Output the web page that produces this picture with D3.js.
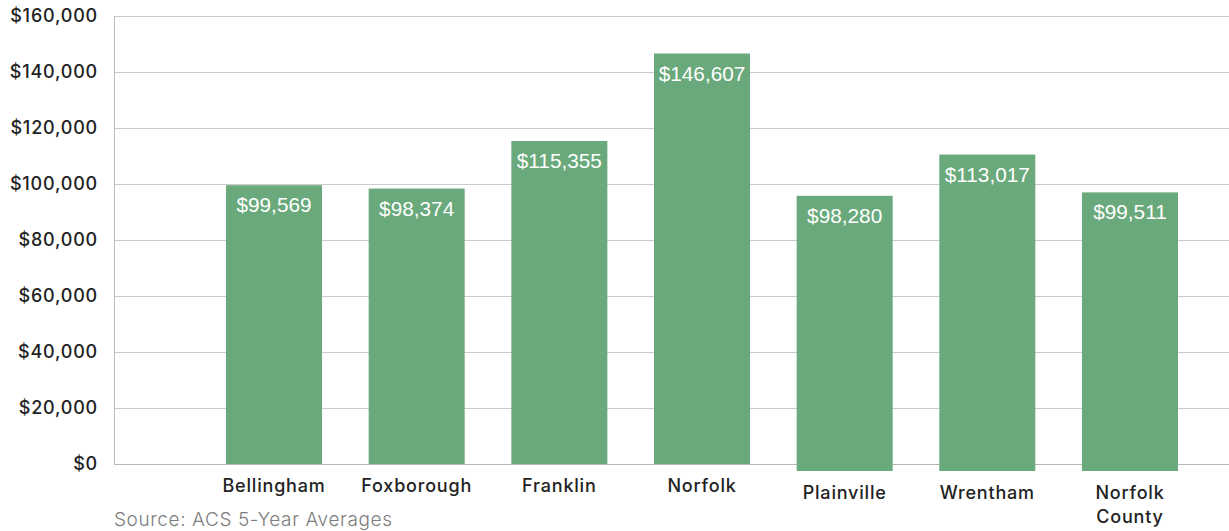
<!DOCTYPE html>
<html>
<head>
<meta charset="utf-8">
<script src="https://cdn.jsdelivr.net/npm/d3@7"></script>
<style>
  html, body { margin: 0; padding: 0; background: #fff; }
  svg { display: block; }
</style>
</head>
<body>
<svg id="chart" width="1229" height="531"></svg>
<script>
// Median household income by community
const categories = ["Bellingham", "Foxborough", "Franklin", "Norfolk", "Plainville", "Wrentham", "Norfolk County"];
const incomes = [99569, 98374, 115355, 146607, 98280, 113017, 99511];
const tickValues = [0, 20000, 40000, 60000, 80000, 100000, 120000, 140000, 160000];
const sourceNote = "Source: ACS 5-Year Averages";

const svg = d3.select("#chart");
const plot = { left: 114, right: 1229, top: 16, bottom: 464 };

const x = d3.scaleBand()
  .domain(categories)
  .range([202.7, 1201.3])
  .paddingInner(0.327)
  .paddingOuter(0.1635);

const y = d3.scaleLinear()
  .domain([0, 160000])
  .range([plot.bottom, plot.top]);

const fmt = d => "$" + d3.format(",")(d);
const labelFont = "Inter, 'Noto Sans', sans-serif";

// horizontal gridlines
svg.append("g")
  .selectAll("line")
  .data(tickValues)
  .join("line")
  .attr("x1", plot.left)
  .attr("x2", plot.right)
  .attr("y1", d => Math.round(y(d)) + 0.5)
  .attr("y2", d => Math.round(y(d)) + 0.5)
  .attr("stroke", d => d === 0 ? "#b9b9b9" : "#cbcbcb")
  .attr("stroke-width", 1);

// left axis line
svg.append("line")
  .attr("x1", plot.left + 0.5).attr("x2", plot.left + 0.5)
  .attr("y1", plot.top).attr("y2", plot.bottom + 1)
  .attr("stroke", "#bdbdbd");

// y tick labels via d3 axis
const yAxis = d3.axisLeft(y).tickValues(tickValues).tickFormat(fmt).tickSize(0).tickPadding(16);
const ya = svg.append("g").attr("transform", `translate(${plot.left},0)`).call(yAxis);
ya.select(".domain").remove();
ya.selectAll("text")
  .attr("font-family", labelFont)
  .attr("font-size", 18)
  .attr("font-weight", 500)
  .attr("letter-spacing", "0.8px")
  .attr("fill", "#222");

// the last three communities sit in a panel drawn slightly lower
const shiftFor = i => (i >= 4 ? 7 : 0);

const bars = svg.append("g")
  .selectAll("g")
  .data(categories.map((c, i) => ({ c, v: incomes[i], i })))
  .join("g")
  .attr("transform", d => `translate(0,${shiftFor(d.i)})`);

bars.append("rect")
  .attr("x", d => x(d.c))
  .attr("width", x.bandwidth())
  .attr("y", d => y(d.v))
  .attr("height", d => y(0) - y(d.v))
  .attr("fill", "#69a97b");

bars.append("text")
  .attr("x", d => x(d.c) + x.bandwidth() / 2)
  .attr("y", d => y(d.v) + 27)
  .attr("text-anchor", "middle")
  .attr("font-family", "'Liberation Sans', Arial, sans-serif")
  .attr("font-size", 20.8)
  .attr("fill", "#fff")
  .text(d => fmt(d.v));

// category labels
bars.append("text")
  .attr("x", d => x(d.c) + x.bandwidth() / 2)
  .attr("y", plot.bottom + 28)
  .attr("text-anchor", "middle")
  .attr("font-family", labelFont)
  .attr("font-size", 18)
  .attr("font-weight", 500)
  .attr("letter-spacing", "0.8px")
  .attr("fill", "#222")
  .each(function(d) {
    const words = d.c === "Norfolk County" ? ["Norfolk", "County"] : [d.c];
    const t = d3.select(this);
    words.forEach((w, k) => {
      t.append("tspan")
        .attr("x", x(d.c) + x.bandwidth() / 2)
        .attr("dy", k === 0 ? 0 : 24)
        .text(w);
    });
  });

// source note
svg.append("text")
  .attr("x", plot.left)
  .attr("y", 526)
  .attr("font-family", labelFont)
  .attr("font-size", 19)
  .attr("font-weight", 300)
  .attr("letter-spacing", "0.6px")
  .attr("fill", "#7d7d7d")
  .text(sourceNote);
</script>
</body>
</html>
